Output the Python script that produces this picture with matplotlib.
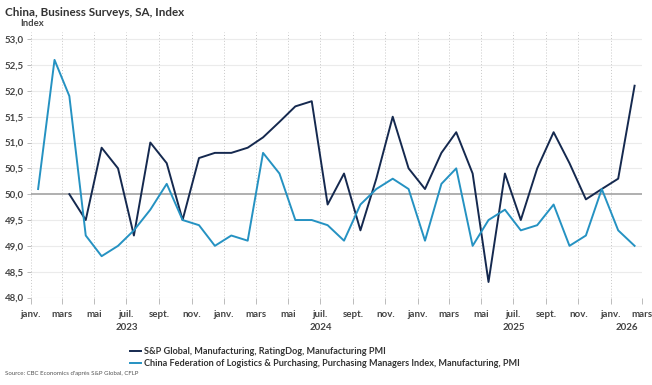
import matplotlib
matplotlib.use("Agg")
import matplotlib.pyplot as plt
import matplotlib.dates as mdates
import matplotlib.transforms as mtransforms
import numpy as np
import pandas as pd

plt.rcParams['font.family'] = ['Lato', 'DejaVu Sans']

months = pd.date_range("2023-01-01", "2026-02-01", freq="MS")
caixin = [None, None, 50.0, 49.5, 50.9, 50.5, 49.2, 51.0, 50.6, 49.5, 50.7, 50.8,
          50.8, 50.9, 51.1, 51.4, 51.7, 51.8, 49.8, 50.4, 49.3, 50.3, 51.5, 50.5,
          50.1, 50.8, 51.2, 50.4, 48.3, 50.4, 49.5, 50.5, 51.2, 50.6, 49.9, 50.1,
          50.3, 52.1]
cflp = [50.1, 52.6, 51.9, 49.2, 48.8, 49.0, 49.3, 49.7, 50.2, 49.5, 49.4, 49.0,
        49.2, 49.1, 50.8, 50.4, 49.5, 49.5, 49.4, 49.1, 49.8, 50.1, 50.3, 50.1,
        49.1, 50.2, 50.5, 49.0, 49.5, 49.7, 49.3, 49.4, 49.8, 49.0, 49.2, 50.1,
        49.3, 49.0]
series_labels = ["S&P Global, Manufacturing, RatingDog, Manufacturing PMI",
                 "China Federation of Logistics & Purchasing, Purchasing Managers Index, Manufacturing, PMI"]
month_names = {1: "janv.", 3: "mars", 5: "mai", 7: "juil.", 9: "sept.", 11: "nov."}
yticks = [48.0, 48.5, 49.0, 49.5, 50.0, 50.5, 51.0, 51.5, 52.0, 52.5, 53.0]

navy = "#15294f"
blue = "#2592c2"
txt = "#444444"

fig = plt.figure(figsize=(6.52, 3.85), dpi=100)
ax = fig.add_axes([30.7/652, 1-297.5/385, (642-30.7)/652, (297.5-32)/385])

xd = months + pd.Timedelta(days=14)
cx = np.array([np.nan if v is None else v for v in caixin], dtype=float)
l1, = ax.plot(xd, cx, color=navy, lw=1.4, zorder=3)
l2, = ax.plot(xd, cflp, color=blue, lw=1.4, zorder=3)

xmin = pd.Timestamp("2023-01-01")
xmax = pd.Timestamp("2026-03-01")
ax.set_xlim(xmin, xmax)
ax.set_ylim(48.0, 53.14)

for y in yticks:
    if y == 50.0:
        ax.axhline(y, color="#9a9a9a", lw=1.1, zorder=2)
    else:
        ax.axhline(y, color="#ebebeb", lw=0.8, zorder=1)

tick_dates = pd.date_range("2023-01-01", "2026-03-01", freq="2MS")
for d in tick_dates:
    ax.axvline(d, color="#c8c8c8", lw=0.7, ls=(0, (1, 2)), zorder=1)
ax.set_xticks(tick_dates)
ax.set_xticklabels([month_names[d.month] for d in tick_dates], fontsize=7.0,
                   color=txt, fontweight="bold")
ax.tick_params(axis="x", length=4, color="#bbbbbb", pad=5, width=0.7)

ax.set_yticks(yticks)
ax.set_yticklabels([f"{y:.1f}".replace(".", ",") for y in yticks], fontsize=7.0,
                   color=txt, fontweight="bold")
ax.tick_params(axis="y", length=3, color="#bbbbbb", pad=2, width=0.7)

for s in ax.spines.values():
    s.set_visible(False)

trans = mtransforms.blended_transform_factory(ax.transData, fig.transFigure)
for yr in [2023, 2024, 2025, 2026]:
    a = max(pd.Timestamp(f"{yr}-01-01"), xmin)
    b = min(pd.Timestamp(f"{yr+1}-01-01"), xmax)
    mid = a + (b - a) / 2
    ax.text(mdates.date2num(mid), 1-327/385, str(yr), transform=trans, ha="center",
            va="center", fontsize=7.0, color=txt, fontweight="bold")

fig.text(5/652, 1-12/385, "China, Business Surveys, SA, Index", fontsize=8.4,
         fontweight="bold", color="#333333", ha="left", va="center")
fig.text(20/652, 1-24/385, "Index", fontsize=6.8, fontweight="bold",
         color=txt, ha="left", va="center")
fig.text(5/652, 1-373/385, "Source: CBC Economics d'après S&P Global, CFLP", fontsize=4.4,
         color="#555555", ha="left", va="center")

leg = fig.legend([l1, l2], series_labels, loc="upper left",
                 bbox_to_anchor=(124/652, 1-341/385), frameon=False,
                 fontsize=6.6, handlelength=1.1, handletextpad=0.4,
                 labelspacing=0.3, borderpad=0.2)
for t in leg.get_texts():
    t.set_color("#333333")
    t.set_fontweight("bold")

fig.savefig("out.png", dpi=100)
